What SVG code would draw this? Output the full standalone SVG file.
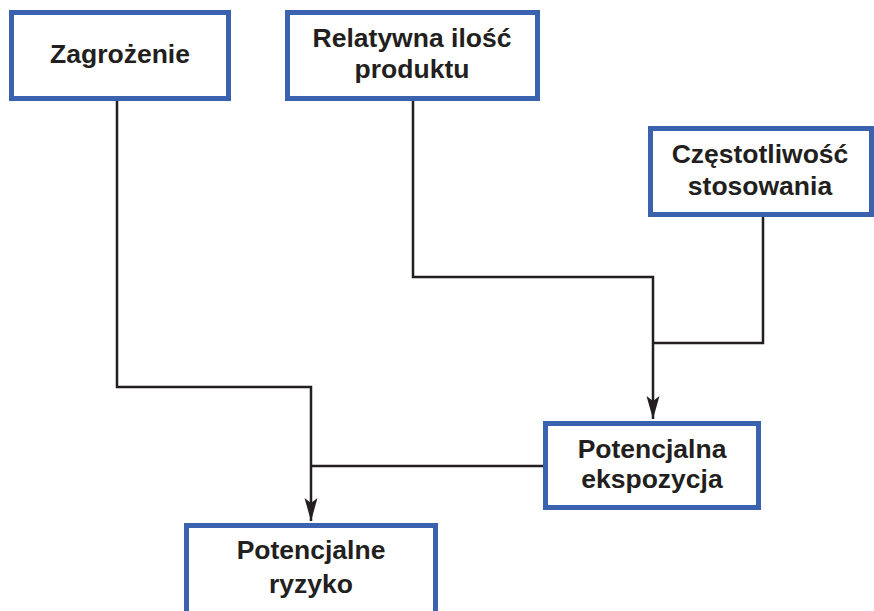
<svg xmlns="http://www.w3.org/2000/svg" width="874" height="611" viewBox="0 0 874 611">
<style>
.box{fill:#ffffff;stroke:#3a62ae;stroke-width:5}
.lbl{font-family:"Liberation Sans",Arial,sans-serif;font-weight:bold;font-size:26.5px;fill:#231f20;text-anchor:middle}
.con{fill:none;stroke:#231f20;stroke-width:2.5}
</style>
<defs>
<marker id="arr" markerUnits="userSpaceOnUse" markerWidth="26" markerHeight="16" refX="23" refY="7" orient="auto" viewBox="0 0 26 14">
<path d="M0,0.5 L23,7 L0,13.5 L5,7 Z" fill="#231f20"/>
</marker>
</defs>
<rect width="874" height="611" fill="#ffffff"/>
<g id="connectors">
<path class="con" d="M117,101 V387 H311 V521" marker-end="url(#arr)"/>
<path class="con" d="M543,466 H311"/>
<path class="con" d="M413,101 V277 H653 V419" marker-end="url(#arr)"/>
<path class="con" d="M763,217 V343 H653"/>
</g>
<g id="zagrozenie">
<rect class="box" x="11.5" y="12.5" width="217" height="86"/>
<text class="lbl" x="120" y="63">Zagrożenie</text>
</g>
<g id="relatywna">
<rect class="box" x="287.5" y="12.5" width="250" height="86"/>
<text class="lbl" x="412" y="47">Relatywna ilość</text>
<text class="lbl" x="412" y="78">produktu</text>
</g>
<g id="czestotliwosc">
<rect class="box" x="650.5" y="128.5" width="221" height="86"/>
<text class="lbl" x="760" y="163">Częstotliwość</text>
<text class="lbl" x="760" y="195">stosowania</text>
</g>
<g id="ekspozycja">
<rect class="box" x="545.5" y="423.5" width="213" height="84"/>
<text class="lbl" x="652" y="458">Potencjalna</text>
<text class="lbl" x="652" y="488">ekspozycja</text>
</g>
<g id="ryzyko">
<rect class="box" x="186.5" y="525.5" width="249" height="100"/>
<text class="lbl" x="311" y="559">Potencjalne</text>
<text class="lbl" x="311" y="593">ryzyko</text>
</g>
</svg>
